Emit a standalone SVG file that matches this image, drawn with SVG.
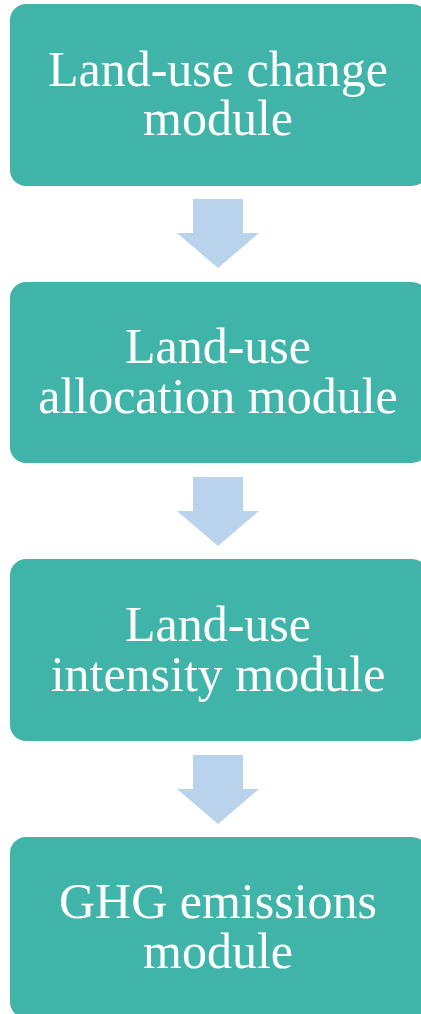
<svg xmlns="http://www.w3.org/2000/svg" width="421" height="1014" viewBox="0 0 421 1014">
<style>
.box{fill:#41b4a9;}
.lbl{font-family:"Liberation Serif",serif;font-size:50px;fill:#ffffff;text-anchor:middle;}
.arr{fill:#b9d3ed;}
</style>
<rect width="421" height="1014" fill="#ffffff"/>
<g id="connectors">
<polygon class="arr" points="193,199 243,199 243,233 259,233 218,268 177,233 193,233"/>
<polygon class="arr" points="193,477 243,477 243,511 259,511 218,546 177,511 193,511"/>
<polygon class="arr" points="193,755 243,755 243,789 259,789 218,824 177,789 193,789"/>
</g>
<g id="node1">
<rect class="box" x="10" y="4" width="418" height="182" rx="16"/>
<text class="lbl"><tspan x="218" y="86">Land-use change</tspan><tspan x="218" y="135">module</tspan></text>
</g>
<g id="node2">
<rect class="box" x="10" y="282" width="418" height="181" rx="16"/>
<text class="lbl"><tspan x="218" y="363">Land-use</tspan><tspan x="218" y="413">allocation module</tspan></text>
</g>
<g id="node3">
<rect class="box" x="10" y="559" width="418" height="182" rx="16"/>
<text class="lbl"><tspan x="218" y="641">Land-use</tspan><tspan x="218" y="691">intensity module</tspan></text>
</g>
<g id="node4">
<rect class="box" x="10" y="837" width="418" height="181" rx="16"/>
<text class="lbl"><tspan x="218" y="918">GHG emissions</tspan><tspan x="218" y="968">module</tspan></text>
</g>
</svg>
